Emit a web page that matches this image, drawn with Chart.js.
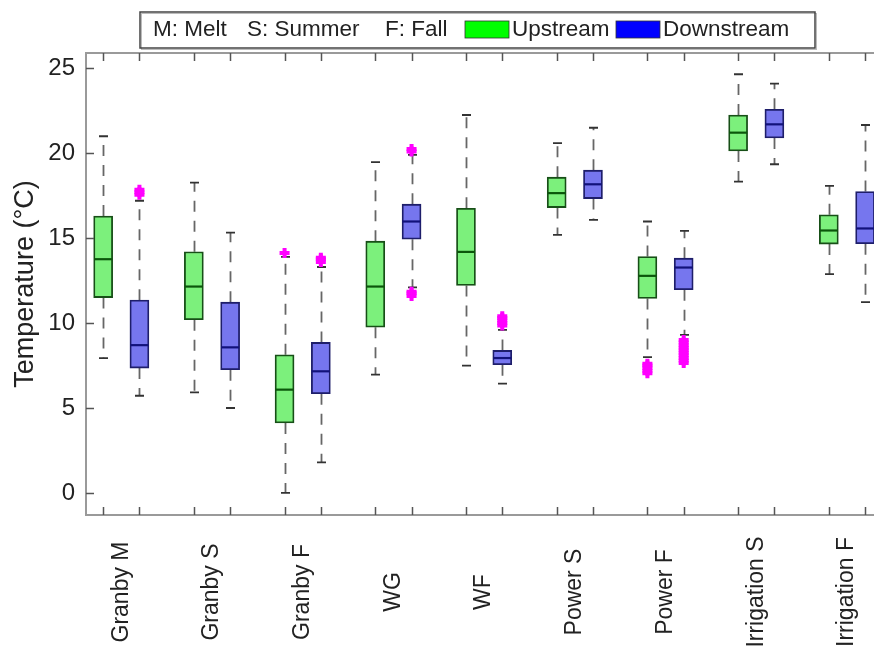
<!DOCTYPE html>
<html><head><meta charset="utf-8">
<script src="https://cdn.jsdelivr.net/npm/chart.js@4"></script>
<style>html,body{margin:0;padding:0;background:#fff}</style>
</head><body>
<canvas id="c" width="874" height="649" style="width:874px;height:649px;display:block"></canvas>
<script>
// ---- data ----
const categories = ['Granby M','Granby S','Granby F','WG','WF','Power S','Power F','Irrigation S','Irrigation F'];
const seriesNames = ['Upstream','Downstream'];
const legendNotes = ['M: Melt','S: Summer','F: Fall'];
const yTickValues = [0,5,10,15,20,25];

const upMin  = [7.94, 5.92, 0.0, 6.96, 7.49, 15.19, 8.0, 18.33, 12.88];
const upQ1   = [11.5, 10.2, 4.12, 9.76, 12.21, 16.8, 11.45, 20.13, 14.65];
const upMed  = [13.76, 12.15, 6.08, 12.15, 14.19, 17.65, 12.78, 21.21, 15.45];
const upQ3   = [16.3, 14.2, 8.13, 14.82, 16.76, 18.59, 13.92, 22.25, 16.37];
const upMax  = [21.0, 18.27, 13.9, 19.47, 22.25, 20.59, 15.98, 24.65, 18.08];

const downMin = [5.72, 5.0, 1.8, 12.1, 6.43, 16.08, 9.3, 19.35, 11.23];
const downQ1  = [7.35, 7.25, 5.84, 14.94, 7.55, 17.33, 11.96, 20.9, 14.67];
const downMed = [8.7, 8.57, 7.16, 15.98, 7.94, 18.17, 13.27, 21.7, 15.57];
const downQ3  = [11.35, 11.23, 8.86, 17.0, 8.39, 19.0, 13.82, 22.59, 17.74];
const downMax = [17.2, 15.33, 13.3, 19.9, 9.6, 21.5, 15.43, 24.1, 21.66];

const upOutliers   = [[], [], [14.12], [], [], [], [7.05, 7.2, 7.35, 7.5, 7.6], [], []];
const downOutliers = [[17.55, 17.7, 17.85], [], [13.6, 13.75, 13.85], [20.1, 20.25, 11.6, 11.75, 11.85], [9.85, 10.0, 10.15, 10.3, 10.4], [], [7.65, 7.8, 7.95, 8.1, 8.25, 8.4, 8.55, 8.7, 8.85, 9.0], [], []];

// ---- styling / layout ----
const OFFSET = 0.2;
const FONT = "'Liberation Sans', Arial, Helvetica, sans-serif";
const styles = [
  {fill:'#7cf07c', stroke:'#174f17', median:'#0b560b', swatch:'#00ff00'},
  {fill:'#7676ee', stroke:'#1e1e6a', median:'#12127a', swatch:'#0000ff'}
];
const series = [
  {min:upMin, q1:upQ1, med:upMed, q3:upQ3, max:upMax, out:upOutliers, off:-OFFSET},
  {min:downMin, q1:downQ1, med:downMed, q3:downQ3, max:downMax, out:downOutliers, off:OFFSET}
];

const boxDatasets = series.map((s, k) => ({
  type: 'bar',
  label: seriesNames[k],
  data: categories.map((c, i) => ({x: i + s.off, y: [s.q1[i], s.q3[i]]})),
  backgroundColor: styles[k].fill,
  borderColor: styles[k].stroke,
  borderWidth: 1.8,
  borderSkipped: false,
  barThickness: 19,
  grouped: false,
  order: 1
}));

const outlierData = [];
series.forEach(s => s.out.forEach((arr, i) => arr.forEach(v => outlierData.push({x: i + s.off, y: v}))));

const outlierDataset = {
  type: 'scatter',
  label: 'Outliers',
  data: outlierData,
  pointStyle: 'cross',
  pointRadius: 5,
  pointBorderWidth: 4,
  borderColor: '#ff00ff',
  backgroundColor: '#ff00ff',
  order: 0
};

const whiskerPlugin = {
  id: 'whiskers',
  beforeDatasetsDraw(chart) {
    const {ctx, scales: {x, y}} = chart;
    ctx.save();
    series.forEach(s => {
      categories.forEach((c, i) => {
        const px = Math.round(x.getPixelForValue(i + s.off)) + 0.5;
        const yMin = y.getPixelForValue(s.min[i]), yQ1 = y.getPixelForValue(s.q1[i]);
        const yQ3 = y.getPixelForValue(s.q3[i]), yMax = y.getPixelForValue(s.max[i]);
        ctx.strokeStyle = '#666';
        ctx.lineWidth = 1.8;
        ctx.setLineDash([11, 9]);
        ctx.beginPath();
        ctx.moveTo(px, yQ3); ctx.lineTo(px, yMax);
        ctx.moveTo(px, yQ1); ctx.lineTo(px, yMin);
        ctx.stroke();
        ctx.setLineDash([]);
        ctx.strokeStyle = '#333';
        ctx.lineWidth = 1.8;
        ctx.beginPath();
        ctx.moveTo(px - 4.5, yMax); ctx.lineTo(px + 4.5, yMax);
        ctx.moveTo(px - 4.5, yMin); ctx.lineTo(px + 4.5, yMin);
        ctx.stroke();
      });
    });
    ctx.restore();
  },
  afterDatasetsDraw(chart) {
    const {ctx, scales: {x, y}} = chart;
    ctx.save();
    series.forEach((s, k) => {
      categories.forEach((c, i) => {
        const px = x.getPixelForValue(i + s.off);
        const ym = y.getPixelForValue(s.med[i]);
        ctx.strokeStyle = styles[k].median;
        ctx.lineWidth = 2.2;
        ctx.beginPath();
        ctx.moveTo(px - 9, ym); ctx.lineTo(px + 9, ym);
        ctx.stroke();
      });
    });
    ctx.restore();
  }
};

const framePlugin = {
  id: 'frame',
  afterDraw(chart) {
    const {ctx, chartArea: {left, right, top, bottom}, scales: {x, y}} = chart;
    ctx.save();
    // top box line
    ctx.strokeStyle = '#9a9a9a';
    ctx.lineWidth = 2;
    ctx.beginPath(); ctx.moveTo(left, top); ctx.lineTo(right, top); ctx.stroke();
    // inward tick marks
    ctx.strokeStyle = '#555';
    ctx.lineWidth = 1.5;
    ctx.beginPath();
    x.ticks.forEach(t => {
      const px = Math.round(x.getPixelForValue(t.value)) + 0.5;
      ctx.moveTo(px, bottom); ctx.lineTo(px, bottom - 8);
      ctx.moveTo(px, top); ctx.lineTo(px, top + 8);
    });
    y.ticks.forEach(t => {
      const py = Math.round(y.getPixelForValue(t.value)) + 0.5;
      ctx.moveTo(left, py); ctx.lineTo(left + 8, py);
    });
    ctx.stroke();
    // group labels
    ctx.fillStyle = '#222';
    ctx.font = '23px ' + FONT;
    ctx.textAlign = 'center';
    ctx.textBaseline = 'middle';
    categories.forEach((c, i) => {
      const px = x.getPixelForValue(i);
      ctx.save();
      ctx.translate(px, 592);
      ctx.rotate(-Math.PI / 2);
      ctx.fillText(c, 0, 0);
      ctx.restore();
    });
    // legend
    ctx.fillStyle = '#fff';
    ctx.fillRect(140, 12, 675, 36);
    ctx.strokeStyle = '#bbb';
    ctx.lineWidth = 1;
    ctx.strokeRect(141.5, 13.5, 675, 36);
    ctx.strokeStyle = '#444';
    ctx.lineWidth = 1.5;
    ctx.strokeRect(140, 12, 675, 36);
    ctx.font = '22.5px ' + FONT;
    ctx.fillStyle = '#222';
    ctx.textAlign = 'left';
    ctx.textBaseline = 'middle';
    const noteX = [153, 247, 385];
    legendNotes.forEach((t, i) => ctx.fillText(t, noteX[i], 30));
    const swX = [465, 616];
    const txtX = [512, 663];
    seriesNames.forEach((n, k) => {
      ctx.fillStyle = styles[k].swatch;
      ctx.fillRect(swX[k], 21, 44, 17);
      ctx.strokeStyle = '#333';
      ctx.lineWidth = 0.8;
      ctx.strokeRect(swX[k], 21, 44, 17);
      ctx.fillStyle = '#222';
      ctx.fillText(n, txtX[k], 30);
    });
    ctx.restore();
  }
};

new Chart(document.getElementById('c'), {
  type: 'bar',
  data: {datasets: [...boxDatasets, outlierDataset]},
  options: {
    responsive: false,
    animation: false,
    devicePixelRatio: 1,
    layout: {autoPadding: false, padding: {top: 53, left: 0, right: 0, bottom: 0}},
    plugins: {legend: {display: false}, tooltip: {enabled: false}, title: {display: false}},
    scales: {
      x: {
        type: 'linear',
        offset: false,
        min: -0.389,
        max: 8.298,
        grid: {display: false, drawTicks: false, offset: false},
        border: {display: true, color: '#9a9a9a', width: 2},
        ticks: {display: false},
        afterBuildTicks(scale) {
          const t = [];
          categories.forEach((c, i) => { t.push({value: i - OFFSET}); t.push({value: i + OFFSET}); });
          scale.ticks = t;
        },
        afterFit(scale) { scale.height = 134; }
      },
      y: {
        type: 'linear',
        min: -1.3,
        max: 25.9,
        grid: {display: false, drawTicks: false},
        border: {display: true, color: '#9a9a9a', width: 2},
        ticks: {font: {family: FONT, size: 24}, color: '#222', padding: 11},
        afterBuildTicks(scale) { scale.ticks = yTickValues.map(v => ({value: v})); },
        title: {display: true, text: 'Temperature (°C)', font: {family: FONT, size: 27}, color: '#222', padding: {top: 9, bottom: 0}},
        afterFit(scale) { scale.width = 86; }
      }
    }
  },
  plugins: [whiskerPlugin, framePlugin]
});
</script>
</body></html>
